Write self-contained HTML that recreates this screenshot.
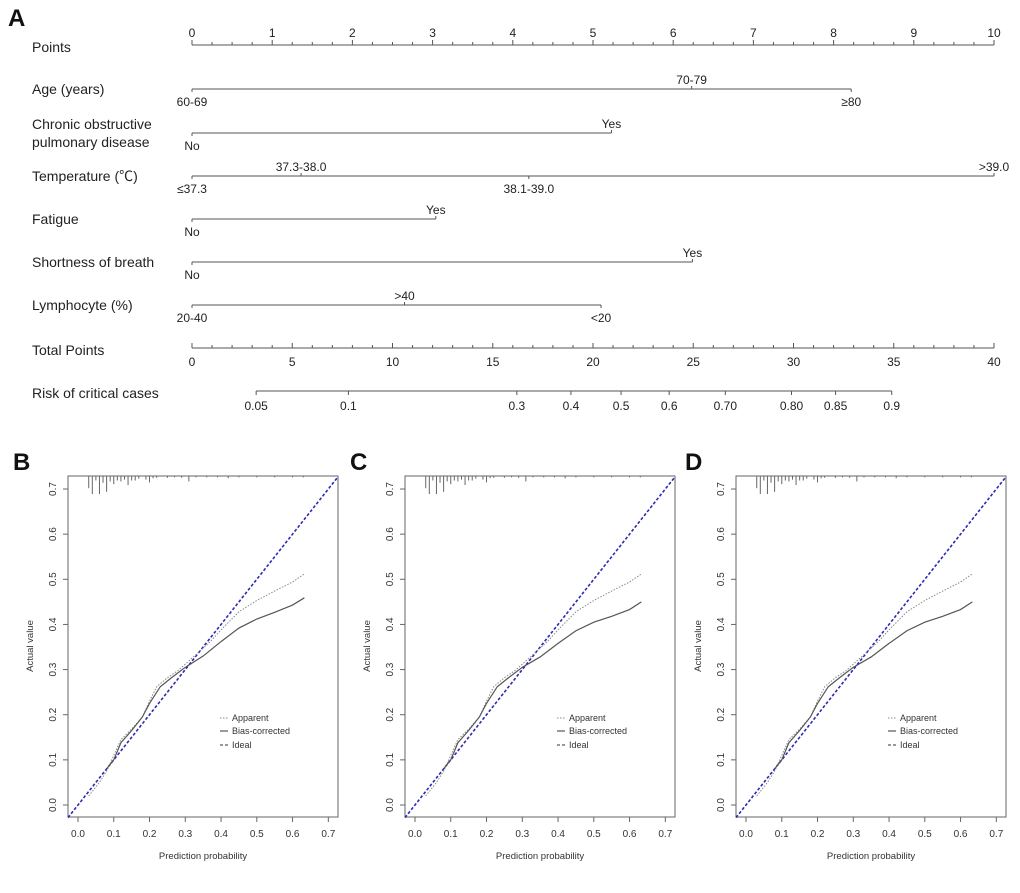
<!DOCTYPE html>
<html><head><meta charset="utf-8"><style>
body{margin:0;background:#fff;}
svg{display:block;font-family:"Liberation Sans","Noto Sans CJK SC",sans-serif;}
</style></head><body>
<svg id="s" width="1020" height="893" xmlns="http://www.w3.org/2000/svg"></svg>
<script>
// ---- Nomogram data ----
const pointTicks = [0,1,2,3,4,5,6,7,8,9,10];
const totalTicks = [0,5,10,15,20,25,30,35,40];
const riskLabels = ["0.05","0.1","0.3","0.4","0.5","0.6","0.70","0.80","0.85","0.9"];
const riskTotals = [3.2,7.8,16.2,18.9,21.4,23.8,26.6,29.9,32.1,34.9];
const rowNames = ["Age (years)","Chronic obstructive|pulmonary disease","Temperature (℃)","Fatigue","Shortness of breath","Lymphocyte (%)"];
const rowLevels = [["60-69","70-79","≥80"],["No","Yes"],["≤37.3","37.3-38.0","38.1-39.0",">39.0"],["No","Yes"],["No","Yes"],["20-40",">40","<20"]];
const rowPoints = [[0,6.23,8.22],[0,5.23],[0,1.36,4.2,10],[0,3.04],[0,6.24],[0,2.65,5.1]];
const rowSides = [["b","t","b"],["b","t"],["b","t","b","t"],["b","t"],["b","t"],["b","t","b"]];

// ---- Calibration data ----
const xTicks = [0,0.1,0.2,0.3,0.4,0.5,0.6,0.7];
const yTicks = [0,0.1,0.2,0.3,0.4,0.5,0.6,0.7];
const appX = [0.03,0.06,0.08,0.1,0.12,0.15,0.18,0.2,0.22,0.25,0.28,0.3,0.33,0.37,0.4,0.45,0.5,0.55,0.6,0.633];
const appY = [0.02,0.05,0.075,0.11,0.145,0.168,0.195,0.23,0.262,0.282,0.298,0.312,0.333,0.362,0.388,0.428,0.453,0.474,0.494,0.512];
const bcX = [0.08,0.1,0.12,0.15,0.18,0.2,0.23,0.26,0.3,0.35,0.4,0.45,0.5,0.55,0.6,0.633];
const bcYB = [0.08,0.1,0.138,0.165,0.195,0.225,0.262,0.281,0.305,0.33,0.362,0.392,0.412,0.427,0.443,0.459];
const bcYC = [0.08,0.1,0.138,0.165,0.195,0.225,0.262,0.281,0.305,0.328,0.358,0.386,0.405,0.418,0.433,0.45];
const rugX = [0.03,0.04,0.05,0.06,0.07,0.08,0.09,0.1,0.11,0.12,0.13,0.14,0.15,0.16,0.17,0.19,0.2,0.21,0.22,0.25,0.27,0.29,0.31,0.33,0.36,0.39,0.42,0.45,0.5,0.55,0.6,0.63];
const rugH = [0.027,0.04,0.01,0.04,0.015,0.035,0.012,0.018,0.01,0.012,0.008,0.02,0.01,0.01,0.006,0.008,0.014,0.005,0.004,0.004,0.003,0.004,0.012,0.003,0.003,0.003,0.005,0.003,0.003,0.003,0.003,0.003];

const NS="http://www.w3.org/2000/svg";
const S=document.getElementById('s');
function el(tag,attrs,parent){const e=document.createElementNS(NS,tag);for(const k in attrs)e.setAttribute(k,attrs[k]);(parent||S).appendChild(e);return e;}
function txt(x,y,t,attrs,parent){const e=el('text',Object.assign({x:x,y:y},attrs||{}),parent);e.textContent=t;return e;}

[["A",8,26],["B",13,470],["C",350,470],["D",685,470]].forEach(p=>{
  const t=txt(p[1],p[2],p[0],{'font-size':24,'font-weight':'bold',fill:'#111'});
  
  
});

const G=el('g',{});


const px=v=>192+v*80.2;
const tx=v=>192+v*20.05;
const lc='#555';
txt(32,52,"Points",{'font-size':14,fill:'#222'},G);
el('line',{x1:px(0),x2:px(10),y1:45,y2:45,stroke:lc,'stroke-width':1},G);
for(let i=0;i<=40;i++){const v=i*0.25;el('line',{x1:px(v),x2:px(v),y1:45,y2:i%4==0?40:42,stroke:lc},G);}
pointTicks.forEach(v=>{const t=txt(px(v),37,v,{'font-size':12,'text-anchor':'middle',fill:'#222'},G);});
const rowY=[89,133,176,219,262,305];
rowNames.forEach((n,i)=>{
  const y=rowY[i];
  const parts=n.split('|');
  const g=el('g',{},G);
  
  
  if(parts.length==2){txt(32,y-4,parts[0],{'font-size':14,fill:'#222'},g);txt(32,y+14,parts[1],{'font-size':14,fill:'#222'},g);}
  else txt(32,y+5,parts[0],{'font-size':14,fill:'#222'},g);
  const pts=rowPoints[i];
  el('line',{x1:px(0),x2:px(Math.max(...pts)),y1:y,y2:y,stroke:lc},g);
  pts.forEach((p,j)=>{
    const side=rowSides[i][j];
    el('line',{x1:px(p),x2:px(p),y1:y,y2:side=='t'?y-3:y+3,stroke:lc},g);
    txt(px(p),side=='t'?y-5:y+17,rowLevels[i][j],{'font-size':12,'text-anchor':'middle',fill:'#222'},g);
  });
});
txt(32,355,"Total Points",{'font-size':14,fill:'#222'},G);
el('line',{x1:tx(0),x2:tx(40),y1:348,y2:348,stroke:lc},G);
for(let i=0;i<=40;i++)el('line',{x1:tx(i),x2:tx(i),y1:348,y2:i%5==0?343:345,stroke:lc},G);
totalTicks.forEach(v=>txt(tx(v),366,v,{'font-size':12,'text-anchor':'middle',fill:'#222'},G));
txt(32,398,"Risk of critical cases",{'font-size':14,fill:'#222'},G);
el('line',{x1:tx(riskTotals[0]),x2:tx(riskTotals[riskTotals.length-1]),y1:391,y2:391,stroke:lc},G);
riskTotals.forEach((v,i)=>{el('line',{x1:tx(v),x2:tx(v),y1:391,y2:395,stroke:lc},G);txt(tx(v),410,riskLabels[i],{'font-size':12,'text-anchor':'middle',fill:'#222'},G);});

function calib(off,bcY,name){
  const g=el('g',{});
  
  
  const X=v=>off+78+v*357.6, Y=v=>805-v*451.4;
  const L=off+68,R=off+338,T=476,B=817;
  el('rect',{x:L,y:T,width:R-L,height:B-T,fill:'none',stroke:'#666','stroke-width':1},g);
  xTicks.forEach(v=>{el('line',{x1:X(v),x2:X(v),y1:B,y2:B+5,stroke:'#666'},g);txt(X(v),837,v.toFixed(1),{'font-size':10,'text-anchor':'middle',fill:'#333'},g);});
  yTicks.forEach(v=>{el('line',{x1:L,x2:L-5,y1:Y(v),y2:Y(v),stroke:'#666'},g);txt(0,0,v.toFixed(1),{'font-size':10,'text-anchor':'middle',fill:'#333',transform:`translate(${L-12},${Y(v)}) rotate(-90)`},g);});
  txt(0,0,"Actual value",{'font-size':9.5,'text-anchor':'middle',fill:'#333',transform:`translate(${off+33},${646}) rotate(-90)`},g);
  txt(off+203,859,"Prediction probability",{'font-size':9.5,'text-anchor':'middle',fill:'#333'},g);
  rugX.forEach((v,i)=>el('line',{x1:X(v),x2:X(v),y1:T,y2:T+rugH[i]*451.4,stroke:'#666'},g));
  const id=el('line',{x1:L,y1:Y((L-off-78)/357.6),x2:R,y2:Y((R-off-78)/357.6),stroke:'#2b2bb0','stroke-width':1.6,'stroke-dasharray':'3,2'},g);
  
  const ap=el('polyline',{points:appX.map((v,i)=>X(v)+','+Y(appY[i])).join(' '),fill:'none',stroke:'#888','stroke-width':1,'stroke-dasharray':'1.5,1.5'},g);
  
  const bc=el('polyline',{points:bcX.map((v,i)=>X(v)+','+Y(bcY[i])).join(' '),fill:'none',stroke:'#555','stroke-width':1.2},g);
  
  const lg=el('g',{},g);
  
  el('line',{x1:off+220,x2:off+228,y1:718,y2:718,stroke:'#888','stroke-dasharray':'1.5,1.5'},lg);
  txt(off+232,721,"Apparent",{'font-size':9,fill:'#333'},lg);
  el('line',{x1:off+220,x2:off+228,y1:731,y2:731,stroke:'#555','stroke-width':1.2},lg);
  txt(off+232,734,"Bias-corrected",{'font-size':9,fill:'#333'},lg);
  el('line',{x1:off+220,x2:off+228,y1:745,y2:745,stroke:'#333','stroke-dasharray':'3,2'},lg);
  txt(off+232,748,"Ideal",{'font-size':9,fill:'#333'},lg);
}
calib(0,bcYB,'calibration-plot-b');
calib(337,bcYC,'calibration-plot-c');
calib(668,bcYC,'calibration-plot-d');
</script>
</body></html>
